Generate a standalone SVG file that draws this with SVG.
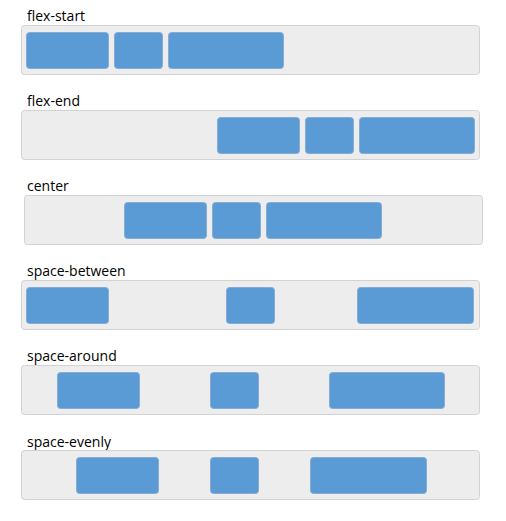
<svg xmlns="http://www.w3.org/2000/svg" width="506" height="521" viewBox="0 0 506 521">
<style>
.lbl{font-family:"Open Sans","DejaVu Sans",sans-serif;font-size:14px;fill:#000}
.box{fill:#ededed;stroke:#d2d2d2;stroke-width:1}
.item{fill:#5b9bd5;stroke:#86acd6;stroke-width:1}
</style>
<rect width="506" height="521" fill="#fff"/>
<g id="flex-start">
<text class="lbl" x="27" y="21">flex-start</text>
<rect class="box" x="21.5" y="25.5" width="458" height="49" rx="3"/>
<rect class="item" x="26.5" y="32.5" width="82" height="36" rx="3"/>
<rect class="item" x="114.5" y="32.5" width="48" height="36" rx="3"/>
<rect class="item" x="168.5" y="32.5" width="115" height="36" rx="3"/>
</g>
<g id="flex-end">
<text class="lbl" x="27" y="106">flex-end</text>
<rect class="box" x="21.5" y="110.5" width="458" height="49" rx="3"/>
<rect class="item" x="217.5" y="117.5" width="82" height="36" rx="3"/>
<rect class="item" x="305.5" y="117.5" width="48" height="36" rx="3"/>
<rect class="item" x="359.5" y="117.5" width="115" height="36" rx="3"/>
</g>
<g id="center">
<text class="lbl" x="27" y="191">center</text>
<rect class="box" x="24.5" y="195.5" width="458" height="49" rx="3"/>
<rect class="item" x="124.5" y="202.5" width="82" height="36" rx="3"/>
<rect class="item" x="212.5" y="202.5" width="48" height="36" rx="3"/>
<rect class="item" x="266.5" y="202.5" width="115" height="36" rx="3"/>
</g>
<g id="space-between">
<text class="lbl" x="27" y="276">space-between</text>
<rect class="box" x="21.5" y="280.5" width="458" height="49" rx="3"/>
<rect class="item" x="26.5" y="287.5" width="82" height="36" rx="3"/>
<rect class="item" x="226.5" y="287.5" width="48" height="36" rx="3"/>
<rect class="item" x="357.5" y="287.5" width="116" height="36" rx="3"/>
</g>
<g id="space-around">
<text class="lbl" x="27" y="361">space-around</text>
<rect class="box" x="21.5" y="365.5" width="458" height="49" rx="3"/>
<rect class="item" x="57.5" y="372.5" width="82" height="36" rx="3"/>
<rect class="item" x="210.5" y="372.5" width="48" height="36" rx="3"/>
<rect class="item" x="329.5" y="372.5" width="115" height="36" rx="3"/>
</g>
<g id="space-evenly">
<text class="lbl" x="27" y="447">space-evenly</text>
<rect class="box" x="21.5" y="450.5" width="458" height="49" rx="3"/>
<rect class="item" x="76.5" y="457.5" width="82" height="36" rx="3"/>
<rect class="item" x="210.5" y="457.5" width="48" height="36" rx="3"/>
<rect class="item" x="310.5" y="457.5" width="116" height="36" rx="3"/>
</g>
<g id="connectors"/>
</svg>
